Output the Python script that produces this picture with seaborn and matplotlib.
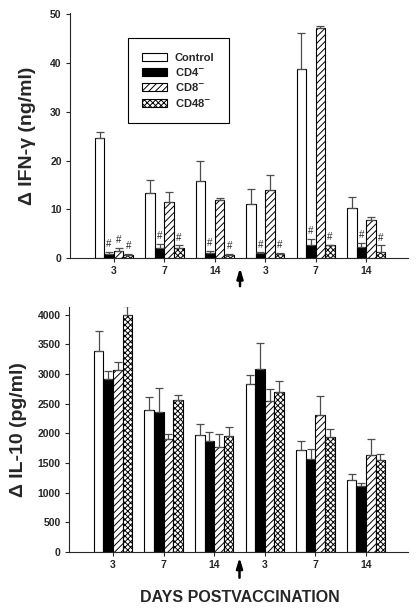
import matplotlib
matplotlib.use("Agg")
import matplotlib.pyplot as plt
from matplotlib.patches import Patch
import seaborn as sns
import pandas as pd

# time points (pre / post arrow) and their tick labels
timepoints = ["a3", "a7", "a14", "b3", "b7", "b14"]
tick_labels = ["3", "7", "14", "3", "7", "14"]
groups = ["Control", "CD4", "CD8", "CD48"]
legend_labels = ["Control", r"CD4$^{-}$", r"CD8$^{-}$", r"CD48$^{-}$"]

# IFN-gamma (ng/ml): mean and upper error
ifn_control = [24.7, 13.3, 15.9, 11.0, 38.9, 10.2]
ifn_cd4 = [0.9, 2.1, 1.0, 1.0, 2.7, 2.3]
ifn_cd8 = [1.5, 11.4, 12.0, 13.9, 47.3, 7.8]
ifn_cd48 = [0.7, 2.1, 0.7, 0.8, 2.6, 1.2]
ifn_control_err = [1.2, 2.8, 4.1, 3.2, 7.2, 2.25]
ifn_cd4_err = [0.3, 0.75, 0.5, 0.15, 1.3, 0.8]
ifn_cd8_err = [0.5, 2.1, 0.4, 3.1, 0.3, 0.7]
ifn_cd48_err = [0.15, 0.5, 0.2, 0.2, 0.15, 1.4]
# significance marks (#) per group
ifn_mark_cd4 = [1, 1, 1, 1, 1, 1]
ifn_mark_cd8 = [1, 0, 0, 0, 0, 0]
ifn_mark_cd48 = [1, 1, 1, 1, 1, 1]

# IL-10 (pg/ml): mean and upper error
il10_control = [3393, 2393, 1966, 2831, 1713, 1213]
il10_cd4 = [2916, 2365, 1865, 3090, 1573, 1112]
il10_cd8 = [3073, 1904, 1775, 2545, 2309, 1635]
il10_cd48 = [3989, 2567, 1961, 2702, 1938, 1556]
il10_control_err = [340, 215, 185, 150, 155, 110]
il10_cd4_err = [135, 400, 150, 430, 170, 50]
il10_cd8_err = [130, 85, 210, 200, 320, 270]
il10_cd48_err = [150, 80, 145, 175, 130, 95]

faces = {"Control": "white", "CD4": "black", "CD8": "white", "CD48": "white"}
hatches = {"Control": "", "CD4": "", "CD8": "/////", "CD48": "xxxxxx"}


def long_df(vals, errs):
    rows = []
    for g, v, e in zip(groups, vals, errs):
        for t, val, err in zip(timepoints, v, e):
            rows.append({"time": t, "group": g, "value": val, "err": err})
    return pd.DataFrame(rows)


sns.set_style("ticks")
plt.rcParams["font.family"] = ["Liberation Sans", "DejaVu Sans"]
plt.rcParams["font.weight"] = "bold"
plt.rcParams["hatch.linewidth"] = 0.7

fig = plt.figure(figsize=(4.2, 6.1), dpi=100)
ax1 = fig.add_axes([70 / 420, 1 - 258 / 610, 338 / 420, 245 / 610])
ax2 = fig.add_axes([69 / 420, 1 - 552 / 610, 339 / 420, 245 / 610])


def draw(ax, df, marks=None):
    sns.barplot(data=df, x="time", y="value", hue="group", order=timepoints,
                hue_order=groups, palette=faces, width=0.76, errorbar=None,
                edgecolor="black", linewidth=0.8, legend=False, ax=ax)
    for g, cont in zip(groups, ax.containers):
        sub = df[df.group == g].set_index("time").loc[timepoints]
        xs, hs = [], []
        for bar in cont:
            bar.set_hatch(hatches[g])
            bar.set_edgecolor("black")
            xs.append(bar.get_x() + bar.get_width() / 2)
            hs.append(bar.get_height())
        errs = sub["err"].tolist()
        ax.errorbar(xs, hs, yerr=[[0] * len(errs), errs], fmt="none",
                    ecolor="0.3", elinewidth=0.9, capsize=3, capthick=0.9)
        if marks and g in marks:
            for x, h, e, m in zip(xs, hs, errs, marks[g]):
                if m:
                    ax.annotate("#", (x, h + e), xytext=(0, 2),
                                textcoords="offset points", ha="center",
                                va="bottom", fontsize=7, fontweight="normal")
    ax.set_xlim(-0.87, 5.83)
    ax.set_xticks(range(len(timepoints)))
    ax.set_xticklabels(tick_labels)
    ax.set_xlabel("")
    sns.despine(ax=ax)
    ax.tick_params(axis="both", labelsize=7.5, length=3, width=0.8, pad=3)
    for lab in ax.get_xticklabels() + ax.get_yticklabels():
        lab.set_fontweight("bold")
    for s in ax.spines.values():
        s.set_linewidth(0.8)


ifn_df = long_df([ifn_control, ifn_cd4, ifn_cd8, ifn_cd48],
                 [ifn_control_err, ifn_cd4_err, ifn_cd8_err, ifn_cd48_err])
draw(ax1, ifn_df, marks={"CD4": ifn_mark_cd4, "CD8": ifn_mark_cd8,
                         "CD48": ifn_mark_cd48})
ax1.set_ylim(0, 50.3)
ax1.set_yticks([0, 10, 20, 30, 40, 50])
ax1.set_ylabel("\u0394 IFN-\u03b3 (ng/ml)", fontsize=14, fontweight="bold",
               labelpad=10)

il_df = long_df([il10_control, il10_cd4, il10_cd8, il10_cd48],
                [il10_control_err, il10_cd4_err, il10_cd8_err, il10_cd48_err])
draw(ax2, il_df)
ax2.set_ylim(0, 4130)
ax2.set_yticks(range(0, 4001, 500))
ax2.set_ylabel("\u0394 IL-10 (pg/ml)", fontsize=14, fontweight="bold",
               labelpad=8)

# vaccination arrows
for ax, tip, tail in [(ax1, -0.04, -0.115), (ax2, -0.022, -0.105)]:
    ax.annotate("", xy=(2.5, tip), xytext=(2.5, tail),
                xycoords=("data", "axes fraction"),
                textcoords=("data", "axes fraction"),
                arrowprops=dict(arrowstyle="-|>,head_width=0.18,head_length=0.6",
                                color="black", lw=1.8, shrinkA=0, shrinkB=0),
                annotation_clip=False)

handles = [Patch(facecolor=faces[g], edgecolor="black", hatch=hatches[g],
                 linewidth=0.8) for g in groups]
leg = ax1.legend(handles, legend_labels, loc="upper left",
                 bbox_to_anchor=(0.155, 0.92), frameon=True, fancybox=False,
                 edgecolor="black", framealpha=1, fontsize=8,
                 handlelength=2.2, handleheight=0.7, borderpad=1.3,
                 labelspacing=0.3, handletextpad=0.7)
leg.get_frame().set_linewidth(0.8)
for t in leg.get_texts():
    t.set_fontweight("bold")

fig.text(240 / 420, 1 - 597 / 610, "DAYS POSTVACCINATION", ha="center",
         va="center", fontsize=11.5, fontweight="bold")

fig.savefig("out.png", dpi=100)
